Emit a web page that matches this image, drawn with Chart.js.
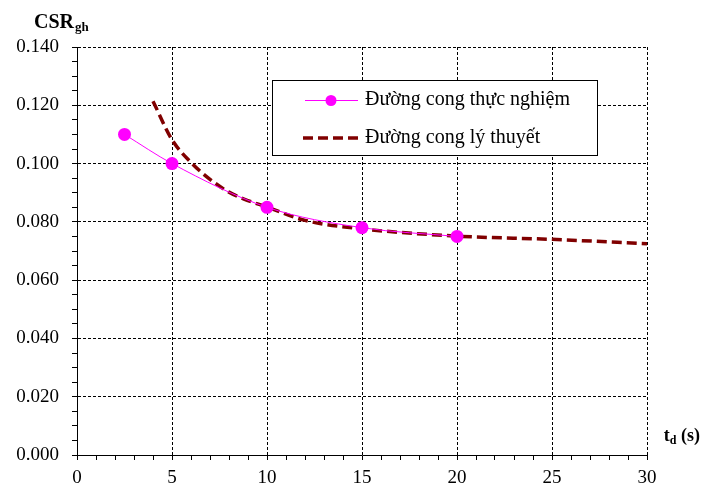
<!DOCTYPE html>
<html lang="vi">
<head>
    <meta charset="UTF-8">
    <title>CSRgh - td</title>
    <script src="https://cdn.jsdelivr.net/npm/chart.js"></script>
    <style>
        html, body { margin: 0; padding: 0; background: #fff; }
        #wrap { width: 702px; height: 486px; }
    </style>
</head>
<body>
    <div id="wrap"><canvas id="chart" width="702" height="486"></canvas></div>
    <script>
    // Số liệu đọc từ đồ thị
    const expX = [2.5, 5, 10, 15, 20];
    const expY = [0.110, 0.100, 0.085, 0.078, 0.075];
    const theoX = [4, 5, 6, 7, 8, 9, 10, 12, 15, 20, 25, 30];
    const theoY = [0.1214, 0.1082, 0.1004, 0.0946, 0.0902, 0.0873, 0.0851, 0.0805, 0.0776, 0.0751, 0.0740, 0.0725];
    const xTickValues = [0, 5, 10, 15, 20, 25, 30];
    const xTickLabels = ['0', '5', '10', '15', '20', '25', '30'];
    const yTickValues = [0, 0.02, 0.04, 0.06, 0.08, 0.10, 0.12, 0.14];
    const yTickLabels = ['0.000', '0.020', '0.040', '0.060', '0.080', '0.100', '0.120', '0.140'];
    const seriesNames = ['Đường cong thực nghiệm', 'Đường cong lý thuyết'];

    const serif = "'Liberation Serif', 'Times New Roman', serif";

    // vạch chia phụ: 1 đơn vị trên trục x, 0.005 trên trục y
    const xMinor = [];
    for (let i = 0; i <= 30; i++) xMinor.push(i);
    const yMinor = [];
    for (let i = 0; i <= 28; i++) yMinor.push(i * 0.005);

    function findLabel(values, labels, v) {
        const i = values.findIndex(t => Math.abs(t - v) < 1e-6);
        return i >= 0 ? labels[i] : '';
    }
    function isMajor(values, v) {
        return values.some(t => Math.abs(t - v) < 1e-6);
    }

    const legendBox = {
        id: 'legendBox',
        afterDatasetsDraw(chart) {
            const ctx = chart.ctx;
            const ds = chart.data.datasets;
            ctx.save();
            ctx.fillStyle = '#fff';
            ctx.fillRect(273, 80, 325, 75);
            ctx.strokeStyle = '#000';
            ctx.lineWidth = 1;
            ctx.strokeRect(272.5, 80.5, 325, 75);

            // mục 1
            ctx.strokeStyle = ds[0].borderColor;
            ctx.lineWidth = ds[0].borderWidth;
            ctx.beginPath();
            ctx.moveTo(305, 100.5);
            ctx.lineTo(358, 100.5);
            ctx.stroke();
            ctx.fillStyle = ds[0].pointBackgroundColor;
            ctx.beginPath();
            ctx.arc(331, 100.5, 5.5, 0, Math.PI * 2);
            ctx.fill();

            // mục 2
            ctx.strokeStyle = ds[1].borderColor;
            ctx.lineWidth = ds[1].borderWidth;
            ctx.setLineDash(ds[1].borderDash);
            ctx.beginPath();
            ctx.moveTo(303, 138);
            ctx.lineTo(360, 138);
            ctx.stroke();
            ctx.setLineDash([]);

            ctx.fillStyle = '#000';
            ctx.font = '20px ' + serif;
            ctx.textBaseline = 'middle';
            ctx.textAlign = 'left';
            ctx.fillText(ds[0].label, 365, 100);
            ctx.fillText(ds[1].label, 365, 138);
            ctx.restore();
        }
    };

    const axisTitles = {
        id: 'axisTitles',
        afterDraw(chart) {
            const ctx = chart.ctx;
            ctx.save();
            ctx.fillStyle = '#000';
            ctx.textBaseline = 'alphabetic';
            ctx.textAlign = 'left';
            ctx.font = 'bold 20px ' + serif;
            ctx.fillText('CSR', 34, 28);
            let w = ctx.measureText('CSR').width;
            ctx.font = 'bold 13px ' + serif;
            ctx.fillText('gh', 34 + w + 1, 31);

            // t_d (s), căn phải sát mép
            const big = 'bold 18px ' + serif, small = 'bold 12px ' + serif;
            ctx.font = big;
            const wt = ctx.measureText('t').width;
            const ws = ctx.measureText(' (s)').width;
            ctx.font = small;
            const wd = ctx.measureText('d').width;
            const x0 = 700 - (wt + wd + ws);
            ctx.font = big;
            ctx.fillText('t', x0, 441);
            ctx.font = small;
            ctx.fillText('d', x0 + wt, 444);
            ctx.font = big;
            ctx.fillText(' (s)', x0 + wt + wd, 441);
            ctx.restore();
        }
    };

    new Chart(document.getElementById('chart'), {
        type: 'line',
        data: {
            datasets: [{
                label: seriesNames[0],
                data: expX.map((x, i) => ({ x: x, y: expY[i] })),
                borderColor: '#FF00FF',
                borderWidth: 1,
                pointBackgroundColor: '#FF00FF',
                pointBorderColor: '#FF00FF',
                pointBorderWidth: 0,
                pointRadius: 6.5,
                cubicInterpolationMode: 'monotone',
                fill: false
            }, {
                label: seriesNames[1],
                data: theoX.map((x, i) => ({ x: x, y: theoY[i] })),
                borderColor: '#800000',
                borderWidth: 3.5,
                borderDash: [10, 5],
                pointRadius: 0,
                cubicInterpolationMode: 'monotone',
                fill: false
            }]
        },
        options: {
            responsive: false,
            animation: false,
            devicePixelRatio: 1,
            layout: { padding: { top: 47, right: 55, left: 0, bottom: 0 } },
            plugins: {
                legend: { display: false },
                tooltip: { enabled: false }
            },
            scales: {
                x: {
                    type: 'linear',
                    min: 0,
                    max: 30,
                    afterBuildTicks: s => { s.ticks = xMinor.map(v => ({ value: v })); },
                    afterFit: s => { s.height = 31; },
                    ticks: {
                        autoSkip: false,
                        maxRotation: 0,
                        padding: 7,
                        color: '#000',
                        font: { family: serif, size: 19 },
                        callback: v => findLabel(xTickValues, xTickLabels, v)
                    },
                    grid: {
                        color: c => isMajor(xTickValues, c.tick.value) ? '#000' : 'rgba(0,0,0,0)',
                        tickColor: '#000',
                        tickLength: 5,
                        lineWidth: 1
                    },
                    border: { color: '#000', width: 1, dash: [3, 2] }
                },
                y: {
                    type: 'linear',
                    min: 0,
                    max: 0.14,
                    afterBuildTicks: s => { s.ticks = yMinor.map(v => ({ value: v })); },
                    afterFit: s => { s.width = 77; },
                    ticks: {
                        autoSkip: false,
                        padding: 13,
                        color: '#000',
                        font: { family: serif, size: 19 },
                        callback: v => findLabel(yTickValues, yTickLabels, v)
                    },
                    grid: {
                        color: c => isMajor(yTickValues, c.tick.value) ? '#000' : 'rgba(0,0,0,0)',
                        tickColor: '#000',
                        tickLength: 5,
                        lineWidth: 1
                    },
                    border: { color: '#000', width: 1, dash: [3, 2] }
                }
            }
        },
        plugins: [legendBox, axisTitles]
    });
    </script>
</body>
</html>
